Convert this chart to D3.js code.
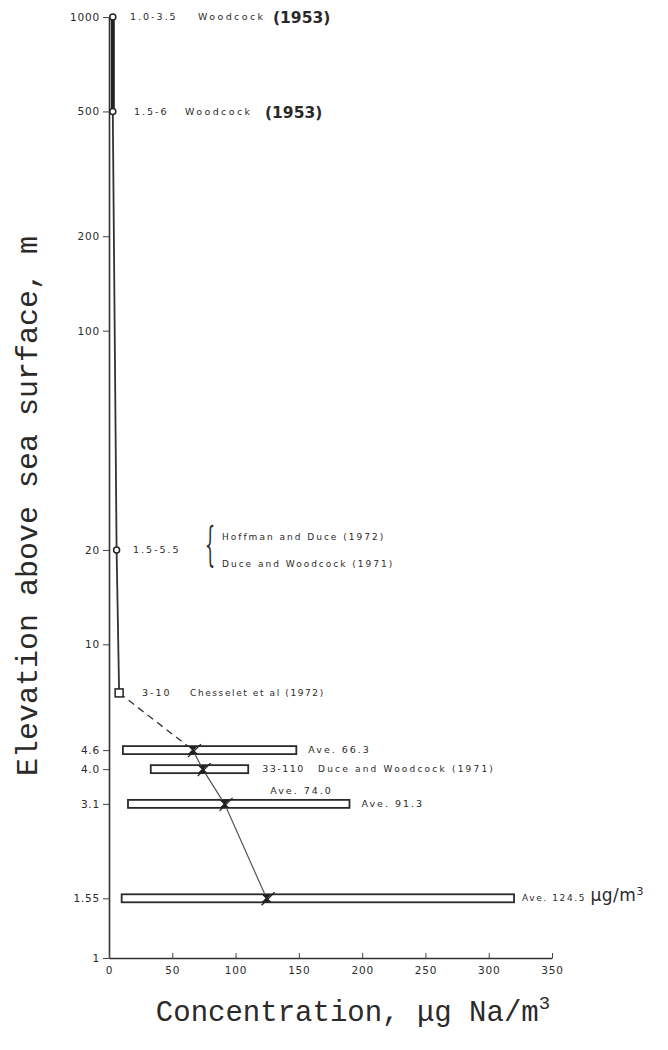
<!DOCTYPE html>
<html>
<head>
<meta charset="utf-8">
<script src="https://cdn.jsdelivr.net/npm/d3@7"></script>
<style>
  body { margin: 0; background: #fff; }
  text { fill: #2a2a2a; }
</style>
</head>
<body>
<svg id="chart" width="668" height="1050"></svg>
<script>
// profile measured from aircraft / tower (upper part)
const profileElev = [1000, 500, 20, 7];
const profileConc = [3, 3, 6, 8];
const profileRange = ["1.0-3.5", "1.5-6", "1.5-5.5", "3-10"];

// near-surface ranges (bars)
const barElev = [4.6, 4.0, 3.1, 1.55];
const barMin = [11, 33, 15, 10];
const barMax = [148, 110, 190, 320];
const barAve = [66.3, 74.0, 91.3, 124.5];

const yTickValues = [1, 1.55, 3.1, 4.0, 4.6, 10, 20, 100, 200, 500, 1000];
const yTickLabels = ["1", "1.55", "3.1", "4.0", "4.6", "10", "20", "100", "200", "500", "1000"];
const xTickValues = [0, 50, 100, 150, 200, 250, 300, 350];

const svg = d3.select("#chart");

const x = d3.scaleLinear().domain([0, 350]).range([109, 552]);
const y = d3.scaleLog().domain([1, 1000]).range([958, 17]);

const small = "'DejaVu Sans', sans-serif";

// axes
const yAxis = svg.append("g")
    .attr("transform", `translate(${x(0)},0)`)
    .call(d3.axisLeft(y)
        .tickValues(yTickValues)
        .tickFormat((d, i) => yTickLabels[i])
        .tickSize(6)
        .tickSizeOuter(0)
        .tickPadding(3));

const xAxis = svg.append("g")
    .attr("transform", `translate(0,${y(1)})`)
    .call(d3.axisBottom(x)
        .tickValues(xTickValues)
        .tickSize(-5)
        .tickSizeOuter(0)
        .tickPadding(9));

[yAxis, xAxis].forEach(g => {
    g.select(".domain").attr("stroke", "#333").attr("stroke-width", 1.6);
    g.selectAll(".tick line").attr("stroke", "#444").attr("stroke-width", 1);
    g.selectAll(".tick text")
        .attr("font-family", small)
        .attr("font-size", 10.5)
        .attr("letter-spacing", 0.8)
        .attr("fill", "#333");
});

// axis titles
svg.append("text")
    .attr("transform", "translate(37,506) rotate(-90)")
    .attr("text-anchor", "middle")
    .attr("font-family", "'Liberation Mono', monospace")
    .attr("font-size", 30)
    .attr("fill", "#444")
    .text("Elevation above sea surface, m");

const xt = svg.append("text")
    .attr("x", 353)
    .attr("y", 1021)
    .attr("text-anchor", "middle")
    .attr("font-family", "'Liberation Mono', monospace")
    .attr("font-size", 29)
    .attr("fill", "#444");
xt.append("tspan").text("Concentration, μg Na/m");
xt.append("tspan").attr("font-size", 19).attr("dy", -12).text("3");

// upper profile: thick part 1000-500, thinner below
const line = d3.line().x(d => x(d[0])).y(d => y(d[1]));
const prof = profileElev.map((e, i) => [profileConc[i], e]);

svg.append("path")
    .attr("d", line(prof.slice(0, 2)))
    .attr("fill", "none").attr("stroke", "#222").attr("stroke-width", 4);
svg.append("path")
    .attr("d", line(prof.slice(1)))
    .attr("fill", "none").attr("stroke", "#333").attr("stroke-width", 1.8);

// dashed link to first bar average
svg.append("path")
    .attr("d", line([prof[3], [barAve[0], barElev[0]]]))
    .attr("fill", "none").attr("stroke", "#333").attr("stroke-width", 1.3)
    .attr("stroke-dasharray", "7,5");

// circles and square markers
svg.selectAll(".pt")
    .data(prof.slice(0, 3))
    .enter().append("circle")
    .attr("cx", d => x(d[0]))
    .attr("cy", d => y(d[1]))
    .attr("r", 3)
    .attr("fill", "#fff")
    .attr("stroke", "#222")
    .attr("stroke-width", 1.5);

svg.append("rect")
    .attr("x", x(prof[3][0]) - 4)
    .attr("y", y(prof[3][1]) - 4)
    .attr("width", 8).attr("height", 8)
    .attr("fill", "#fff").attr("stroke", "#222").attr("stroke-width", 1.5);

// bars
const bars = barElev.map((e, i) => ({ e, lo: barMin[i], hi: barMax[i], ave: barAve[i] }));

svg.selectAll(".bar")
    .data(bars)
    .enter().append("rect")
    .attr("x", d => x(d.lo))
    .attr("y", d => y(d.e) - 4)
    .attr("width", d => x(d.hi) - x(d.lo))
    .attr("height", 8)
    .attr("fill", "#fff")
    .attr("stroke", "#2a2a2a")
    .attr("stroke-width", 1.8);

// line through averages
svg.append("path")
    .attr("d", line(bars.map(d => [d.ave, d.e])))
    .attr("fill", "none").attr("stroke", "#555").attr("stroke-width", 1.2);

// average marks
const marks = svg.selectAll(".mark")
    .data(bars)
    .enter().append("g")
    .attr("transform", d => `translate(${x(d.ave)},${y(d.e)})`);
marks.append("path")
    .attr("d", "M-5,-4 L5,-4 L1,0 L5,4 L-5,4 L-1,0 Z")
    .attr("fill", "#222");
marks.append("line")
    .attr("x1", -5).attr("y1", 7).attr("x2", 8).attr("y2", -6)
    .attr("stroke", "#222").attr("stroke-width", 1.3);

// annotations
function label(xp, yp, txt, size, opts = {}) {
    return svg.append("text")
        .attr("x", xp).attr("y", yp)
        .attr("dy", "0.35em")
        .attr("font-family", opts.family || small)
        .attr("font-size", size)
        .attr("font-weight", opts.weight || "normal")
        .attr("letter-spacing", opts.ls == null ? 2 : opts.ls)
        .attr("fill", "#2a2a2a")
        .text(txt);
}

const bold = { family: "'DejaVu Sans', sans-serif", weight: "bold", ls: 0 };

label(130, y(1000), profileRange[0], 9.5);
label(198, y(1000), "Woodcock", 9.5, { ls: 2.4 });
label(273, y(1000) + 1, "(1953)", 15.5, bold);

label(134, y(500), profileRange[1], 9.5);
label(185, y(500), "Woodcock", 9.5, { ls: 2.4 });
label(265, y(500) + 1, "(1953)", 15.5, bold);

label(133, y(20), profileRange[2], 9.5);
svg.append("text")
    .attr("x", 205).attr("y", y(20) + 10)
    .attr("font-family", "'DejaVu Serif', serif")
    .attr("font-size", 46)
    .attr("font-weight", 200)
    .attr("fill", "#555")
    .attr("transform", `translate(205,${y(20)}) scale(0.35,1) translate(-205,${-y(20)})`)
    .text("{");
label(222, y(20) - 13, "Hoffman and Duce (1972)", 9, { ls: 2 });
label(222, y(20) + 14, "Duce and Woodcock (1971)", 9, { ls: 2 });

label(142, y(profileElev[3]), profileRange[3], 9.5);
label(190, y(profileElev[3]), "Chesselet et al (1972)", 9, { ls: 1.6 });

label(x(barMax[0]) + 12, y(barElev[0]), "Ave. " + barAve[0].toFixed(1), 9.5);
label(x(barMax[1]) + 14, y(barElev[1]), "33-110", 9.5, { ls: 1.5 });
label(318, y(barElev[1]), "Duce and Woodcock (1971)", 9, { ls: 2.2 });
label(x(barMax[1]) + 22, y(barElev[1]) + 22, "Ave. " + barAve[1].toFixed(1), 9.5);
label(x(barMax[2]) + 12, y(barElev[2]), "Ave. " + barAve[2].toFixed(1), 9.5);
const last = label(x(barMax[3]) + 8, y(barElev[3]), "Ave. " + barAve[3].toFixed(1) + " ", 9, { ls: 1.6 });
last.append("tspan").attr("font-size", 17).attr("letter-spacing", 0.5).text("μg/m");
last.append("tspan").attr("font-size", 11).attr("letter-spacing", 0).attr("dy", -6).text("3");
</script>
</body>
</html>
